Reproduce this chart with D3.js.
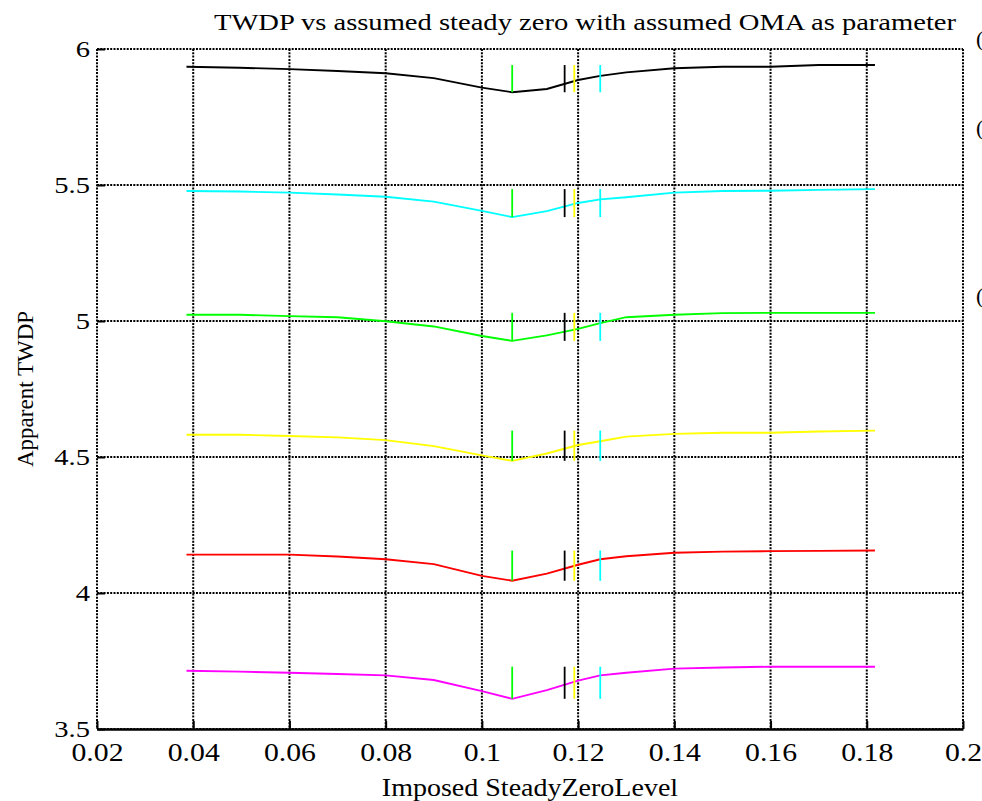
<!DOCTYPE html>
<html>
<head>
<meta charset="utf-8">
<script src="https://cdn.jsdelivr.net/npm/d3@7"></script>
<style>
  body { margin: 0; background: #fff; overflow: hidden; }
  text { font-family: "Liberation Serif", "DejaVu Serif", serif; fill: #000; }
</style>
</head>
<body>
<div id="chart"></div>
<script>
// Imposed steady zero level (x) sampled for every curve
const zeroLevels = [0.0386, 0.0496, 0.06, 0.07, 0.08, 0.09, 0.1, 0.1063, 0.1135, 0.12, 0.1246, 0.13, 0.14, 0.15, 0.16, 0.17, 0.1817];

// Apparent TWDP, one array per assumed OMA
const twdpBlack   = [5.935, 5.931, 5.926, 5.919, 5.911, 5.893, 5.858, 5.841, 5.853, 5.886, 5.901, 5.914, 5.929, 5.935, 5.935, 5.941, 5.941];
const twdpCyan    = [5.478, 5.476, 5.472, 5.465, 5.457, 5.439, 5.405, 5.382, 5.404, 5.434, 5.447, 5.455, 5.472, 5.478, 5.479, 5.482, 5.485];
const twdpGreen   = [5.023, 5.023, 5.018, 5.014, 4.999, 4.980, 4.945, 4.927, 4.947, 4.971, 4.992, 5.014, 5.023, 5.029, 5.030, 5.030, 5.030];
const twdpYellow  = [4.582, 4.582, 4.577, 4.572, 4.562, 4.540, 4.506, 4.486, 4.513, 4.544, 4.558, 4.575, 4.585, 4.589, 4.589, 4.594, 4.597];
const twdpRed     = [4.141, 4.141, 4.141, 4.134, 4.124, 4.106, 4.063, 4.045, 4.071, 4.104, 4.124, 4.135, 4.148, 4.152, 4.154, 4.155, 4.156];
const twdpMagenta = [3.714, 3.711, 3.707, 3.702, 3.697, 3.680, 3.639, 3.611, 3.643, 3.678, 3.697, 3.707, 3.722, 3.726, 3.729, 3.729, 3.729];

const curves = [twdpBlack, twdpCyan, twdpGreen, twdpYellow, twdpRed, twdpMagenta];
const curveColors = ["#000000", "#00ffff", "#00ff00", "#ffff00", "#ff0000", "#ff00ff"];

// vertical marker positions (same on every curve)
const markerLevels = [0.1063, 0.1172, 0.1192, 0.1246];
const markerColors = ["#00ff00", "#000000", "#ffff00", "#00ffff"];

const xTicks = [0.02, 0.04, 0.06, 0.08, 0.1, 0.12, 0.14, 0.16, 0.18, 0.2];
const yTicks = [3.5, 4, 4.5, 5, 5.5, 6];

(function () {
  const W = 982, H = 801;
  const margin = { top: 49, right: 19, bottom: 72, left: 97 };
  const width = W - margin.left - margin.right;
  const height = H - margin.top - margin.bottom;
  const stretch = 1.19; // text in the picture is a bit wider than normal

  const x = d3.scaleLinear().domain([0.02, 0.2]).range([0, width]);
  const y = d3.scaleLinear().domain([3.5, 6]).range([height, 0]);

  const svgRoot = d3.select("#chart").append("svg")
      .attr("width", W)
      .attr("height", H);

  const svg = svgRoot.append("g")
      .attr("transform", `translate(${margin.left},${margin.top})`);

  // widen a text node horizontally
  function widen(sel, f) {
    sel.each(function () {
      const len = this.getComputedTextLength();
      d3.select(this).attr("textLength", len * (f || stretch)).attr("lengthAdjust", "spacingAndGlyphs");
    });
  }

  // dotted grid
  const grid = svg.append("g")
      .attr("stroke", "#000")
      .attr("stroke-width", 2)
      .attr("stroke-dasharray", "2,1.3");

  grid.selectAll(".vgrid").data(xTicks).join("line")
      .attr("x1", d => x(d)).attr("x2", d => x(d))
      .attr("y1", 0).attr("y2", height);

  grid.selectAll(".hgrid").data(yTicks).join("line")
      .attr("x1", 0).attr("x2", width)
      .attr("y1", d => y(d)).attr("y2", d => y(d));

  // bottom axis (solid) with inward ticks
  const xAxis = svg.append("g")
      .attr("transform", `translate(0,${height})`)
      .call(d3.axisBottom(x).tickValues(xTicks).tickSizeInner(-8).tickSizeOuter(0).tickPadding(23).tickFormat(d => String(d)));
  xAxis.select(".domain").attr("stroke-width", 2.5);
  xAxis.selectAll(".tick line").attr("stroke-width", 2);
  xAxis.selectAll(".tick text")
      .style("font-size", "25px")
      .style("font-family", "Liberation Serif, serif")
      .attr("dy", "0.35em")
      .call(widen);

  const yAxis = svg.append("g")
      .call(d3.axisLeft(y).tickValues(yTicks).tickSizeInner(-8).tickSizeOuter(0).tickPadding(7).tickFormat(d => String(d)));
  yAxis.select(".domain").remove();
  yAxis.selectAll(".tick line").attr("stroke-width", 2);
  yAxis.selectAll(".tick text")
      .style("font-size", "24px")
      .style("font-family", "Liberation Serif, serif")
      .attr("dy", "0.3em")
      .call(widen);

  // curves
  const line = d3.line()
      .x((d, i) => x(zeroLevels[i]))
      .y(d => y(d));

  curves.forEach((vals, k) => {
    svg.append("path")
        .datum(vals)
        .attr("fill", "none")
        .attr("stroke", curveColors[k])
        .attr("stroke-width", 1.9)
        .attr("d", line);

    // short vertical markers spanning the curve's range
    const lo = d3.min(vals), hi = d3.max(vals);
    markerLevels.forEach((m, j) => {
      svg.append("line")
          .attr("x1", x(m)).attr("x2", x(m))
          .attr("y1", y(lo)).attr("y2", y(hi))
          .attr("stroke", markerColors[j])
          .attr("stroke-width", 1.8);
    });
  });

  // title
  svgRoot.append("text")
      .attr("x", 585)
      .attr("y", 30)
      .attr("text-anchor", "middle")
      .style("font-size", "24px")
      .text("TWDP vs assumed steady zero with assumed OMA as parameter")
      .call(widen);

  // x label
  svgRoot.append("text")
      .attr("x", margin.left + width / 2)
      .attr("y", 796)
      .attr("text-anchor", "middle")
      .style("font-size", "25px")
      .text("Imposed SteadyZeroLevel")
      .call(widen, 1.12);

  // y label
  svgRoot.append("text")
      .attr("transform", `translate(33,${margin.top + height / 2}) rotate(-90)`)
      .attr("text-anchor", "middle")
      .style("font-size", "23px")
      .text("Apparent TWDP");

  // clipped legend glyphs at the right edge
  [38, 127, 295].forEach(yy => {
    svgRoot.append("text")
        .attr("x", 976)
        .attr("y", yy + 8)
        .style("font-size", "22px")
        .text("(");
  });
})();
</script>
</body>
</html>
